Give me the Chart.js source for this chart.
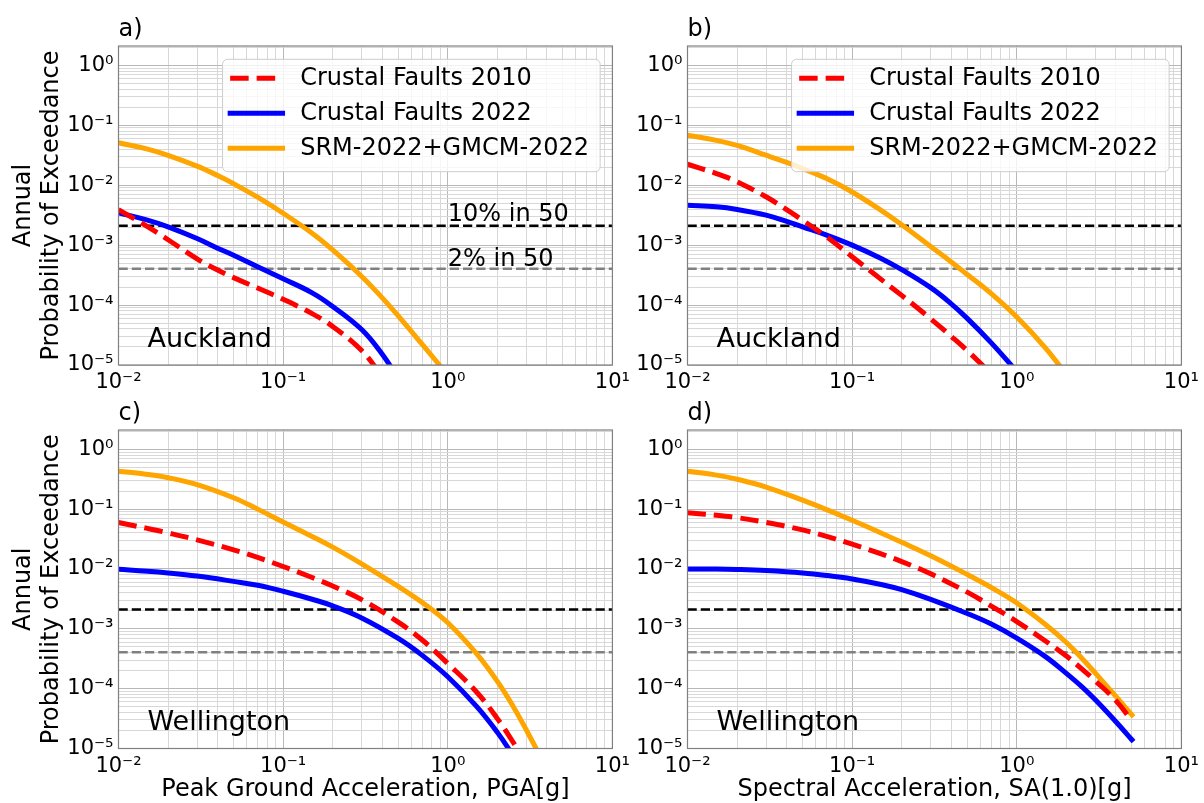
<!DOCTYPE html>
<html>
<head>
<meta charset="utf-8">
<script src="https://cdn.jsdelivr.net/npm/chart.js@4/dist/chart.umd.min.js"></script>
<style>
  body { margin: 0; background: #fff; }
  #page { position: relative; width: 1204px; height: 803px; overflow: hidden; }
  canvas { position: absolute; }
</style>
</head>
<body>
<div id="page">
  <canvas id="pa" width="635" height="400" style="left:0;top:0"></canvas>
  <canvas id="pb" width="635" height="400" style="left:569px;top:0"></canvas>
  <canvas id="pc" width="635" height="419" style="left:0;top:384px"></canvas>
  <canvas id="pd" width="635" height="419" style="left:569px;top:384px"></canvas>
</div>
<script>
// ---- data ----
const seriesLabels = ['Crustal Faults 2010', 'Crustal Faults 2022', 'SRM-2022+GMCM-2022']
const seriesColors = ['#ff0000', '#0000ff', '#ffa500']

const hazardLevels = [0.0021, 0.000404]
const hazardLabels = ['10% in 50', '2% in 50']
const hazardColors = ['#000000', '#808080']

const xMajorTicks = [0.01, 0.1, 1, 10]
const xTickLabels = ['10⁻²', '10⁻¹', '10⁰', '10¹']
const yMajorTicks = [1e-5, 1e-4, 1e-3, 1e-2, 1e-1, 1]
const yTickLabels = ['10⁻⁵', '10⁻⁴', '10⁻³', '10⁻²', '10⁻¹', '10⁰']

// Auckland, PGA / SA(1.0)
const xTop = [0.01, 0.015, 0.02, 0.03, 0.04, 0.05, 0.07, 0.1, 0.15, 0.2, 0.3, 0.4, 0.5, 0.7, 1, 1.5, 2]
const aklPga2010 = [3.9e-3, 2.03e-3, 1.23e-3, 5.9e-4, 3.84e-4, 2.87e-4, 1.92e-4, 1.25e-4, 7.2e-5, 4.4e-5, 1.74e-5, 6.4e-6, null, null, null, null, null]
const aklPga2022 = [3.46e-3, 2.61e-3, 2.02e-3, 1.29e-3, 8.9e-4, 6.8e-4, 4.37e-4, 2.75e-4, 1.6e-4, 9.5e-5, 3.9e-5, 1.51e-5, 6e-6, null, null, null, null]
const aklPgaSrm = [5.1e-2, 4.0e-2, 3.15e-2, 2.08e-2, 1.45e-2, 1.06e-2, 6.3e-3, 3.4e-3, 1.58e-3, 8.3e-4, 3.0e-4, 1.32e-4, 6.6e-5, 2.2e-5, 6.8e-6, null, null]
const aklSa2010 = [2.24e-2, 1.56e-2, 1.14e-2, 6.4e-3, 3.9e-3, 2.6e-3, 1.38e-3, 6.4e-4, 2.68e-4, 1.45e-4, 5.9e-5, 3.0e-5, 1.74e-5, 7.1e-6, null, null, null]
const aklSa2022 = [4.64e-3, 4.35e-3, 3.93e-3, 3.16e-3, 2.5e-3, 2.02e-3, 1.47e-3, 1.0e-3, 6.0e-4, 3.9e-4, 1.95e-4, 1.05e-4, 6.0e-5, 2.34e-5, 7.8e-6, null, null]
const aklSaSrm = [6.8e-2, 5.6e-2, 4.6e-2, 3.16e-2, 2.4e-2, 1.9e-2, 1.29e-2, 7.7e-3, 3.8e-3, 2.19e-3, 9.5e-4, 5.25e-4, 3.24e-4, 1.55e-4, 6.3e-5, 1.9e-5, 6.9e-6]

// Wellington, PGA / SA(1.0)
const xBottom = [0.01, 0.015, 0.02, 0.03, 0.05, 0.07, 0.1, 0.15, 0.2, 0.3, 0.5, 0.7, 1, 1.5, 2, 2.5, 3, 4, 5]
const wlgPga2010 = [5.96e-2, 4.76e-2, 4.01e-2, 3.07e-2, 2.09e-2, 1.56e-2, 1.1e-2, 7.2e-3, 5.2e-3, 3.07e-3, 1.29e-3, 6.5e-4, 2.63e-4, 8.7e-5, 3.16e-5, 1.26e-5, 5.5e-6, null, null]
const wlgPga2022 = [9.9e-3, 9.2e-3, 8.6e-3, 7.6e-3, 6.2e-3, 5.35e-3, 4.25e-3, 3.12e-3, 2.42e-3, 1.52e-3, 6.9e-4, 3.6e-4, 1.58e-4, 5.0e-5, 1.86e-5, 7.6e-6, null, null, null]
const wlgPgaSrm = [0.43, 0.38, 0.335, 0.257, 0.155, 0.1, 0.061, 0.035, 0.0232, 0.0122, 5.1e-3, 2.75e-3, 1.26e-3, 3.8e-4, 1.32e-4, 5.0e-5, 2.04e-5, 4.5e-6, null]
const wlgSa2010 = [8.7e-2, 7.9e-2, 7.2e-2, 6.0e-2, 4.5e-2, 3.5e-2, 2.6e-2, 1.78e-2, 1.33e-2, 8.3e-3, 4.1e-3, 2.4e-3, 1.32e-3, 6.2e-4, 3.5e-4, 2.1e-4, 1.35e-4, 6.3e-5, 2.9e-5]
const wlgSa2022 = [1.0e-2, 9.95e-3, 9.8e-3, 9.4e-3, 8.6e-3, 7.8e-3, 6.8e-3, 5.5e-3, 4.5e-3, 3.1e-3, 1.8e-3, 1.2e-3, 7.0e-4, 3.4e-4, 1.8e-4, 1.06e-4, 6.5e-5, 2.8e-5, 1.4e-5]
const wlgSaSrm = [0.43, 0.37, 0.316, 0.234, 0.141, 0.098, 0.065, 0.040, 0.0279, 0.0166, 8.1e-3, 4.9e-3, 2.7e-3, 1.17e-3, 5.9e-4, 3.16e-4, 1.82e-4, 7.4e-5, 3.63e-5]

const xMin = 0.01, xMax = 10, yMin = 1e-5, yMax = 2.1
const yTitle = ['Annual', 'Probability of Exceedance']

const panels = [
  { id: 'pa', tag: 'a)', city: 'Auckland', xs: xTop, series: [aklPga2010, aklPga2022, aklPgaSrm], legend: true, hazardText: true, yTitle: true, xTitle: null },
  { id: 'pb', tag: 'b)', city: 'Auckland', xs: xTop, series: [aklSa2010, aklSa2022, aklSaSrm], legend: true, hazardText: false, yTitle: false, xTitle: null },
  { id: 'pc', tag: 'c)', city: 'Wellington', xs: xBottom, series: [wlgPga2010, wlgPga2022, wlgPgaSrm], legend: false, hazardText: false, yTitle: true, xTitle: 'Peak Ground Acceleration, PGA[g]' },
  { id: 'pd', tag: 'd)', city: 'Wellington', xs: xBottom, series: [wlgSa2010, wlgSa2022, wlgSaSrm], legend: false, hazardText: false, yTitle: false, xTitle: 'Spectral Acceleration, SA(1.0)[g]' }
]

// ---- helpers ----
Chart.defaults.font.family = "'DejaVu Sans', sans-serif"
Chart.defaults.color = '#000'

function withMinors(majors, max) {
  const out = []
  majors.forEach(m => {
    for (let k = 1; k <= 9; k++) {
      const v = +(m * k).toPrecision(6)
      if (v <= max * 1.0001) out.push(v)
    }
  })
  return out
}
const xGrid = withMinors(xMajorTicks, xMax)
const yGrid = withMinors(yMajorTicks, yMax)

function majorIndex(v, majors) {
  return majors.findIndex(m => Math.abs(v / m - 1) < 1e-6)
}
function gridColor(majors) {
  return c => (c.tick && majorIndex(c.tick.value, majors) >= 0) ? '#b8b8b8' : '#d8d8d8'
}

function curve(i, xs, ys) {
  return {
    label: seriesLabels[i],
    data: xs.map((x, k) => ({ x: x, y: ys[k] })),
    borderColor: seriesColors[i],
    borderWidth: 5,
    borderDash: i === 0 ? [18.5, 8] : [],
    borderCapStyle: i === 0 ? 'butt' : 'square',
    borderJoinStyle: 'round',
    pointRadius: 0,
    tension: 0.4,
    fill: false,
    clip: 0,
    order: i
  }
}
function hazard(j) {
  return {
    label: hazardLabels[j],
    data: [{ x: xMin, y: hazardLevels[j] }, { x: xMax, y: hazardLevels[j] }],
    borderColor: hazardColors[j],
    borderWidth: 2.5,
    borderDash: [9.25, 4],
    pointRadius: 0,
    fill: false,
    clip: 0,
    order: 5 + j,
    hazard: true
  }
}

// frame, texts and legend drawn on top of the lines
const panelDecor = {
  id: 'panelDecor',
  afterDatasetsDraw(chart, args, opts) {
    const { ctx, chartArea: ca } = chart
    const x = chart.scales.x, y = chart.scales.y
    ctx.save()
    ctx.strokeStyle = '#808080'
    ctx.lineWidth = 1.2
    ctx.strokeRect(ca.left, ca.top, ca.right - ca.left, ca.bottom - ca.top)

    ctx.fillStyle = '#000'
    ctx.textAlign = 'left'
    ctx.textBaseline = 'alphabetic'
    ctx.font = "27px 'DejaVu Sans'"
    ctx.fillText(opts.city, x.getPixelForValue(0.015), y.getPixelForValue(2e-5))

    if (opts.hazardText) {
      ctx.font = "24px 'DejaVu Sans'"
      ctx.fillText(hazardLabels[0], x.getPixelForValue(1), y.getPixelForValue(0.0025))
      ctx.fillText(hazardLabels[1], x.getPixelForValue(1), y.getPixelForValue(0.00045))
    }

    if (opts.legend) {
      ctx.font = "24px 'DejaVu Sans'"
      const items = chart.data.datasets.filter(d => !d.hazard)
      const textW = Math.max(...items.map(d => ctx.measureText(d.label).width))
      const w = 77.6 + textW + 11
      const h = 112.4
      const left = ca.right - 12.3 - w
      const top = ca.top + 13.3
      ctx.beginPath()
      ctx.roundRect(left, top, w, h, 5)
      ctx.fillStyle = 'rgba(255,255,255,0.8)'
      ctx.fill()
      ctx.strokeStyle = '#cccccc'
      ctx.lineWidth = 1
      ctx.stroke()
      items.forEach((d, i) => {
        const cy = top + 19 + 35 * i
        ctx.beginPath()
        ctx.strokeStyle = d.borderColor
        ctx.lineWidth = d.borderWidth
        ctx.lineCap = d.borderCapStyle
        ctx.setLineDash(d.borderDash)
        ctx.moveTo(left + 7.6, cy)
        ctx.lineTo(left + 60, cy)
        ctx.stroke()
        ctx.setLineDash([])
        ctx.fillStyle = '#000'
        ctx.textBaseline = 'middle'
        ctx.fillText(d.label, left + 77.6, cy)
      })
    }
    ctx.restore()
  }
}

panels.forEach(p => {
  const datasets = p.series.map((ys, i) => curve(i, p.xs, ys))
  datasets.push(hazard(0), hazard(1))
  new Chart(document.getElementById(p.id), {
    type: 'line',
    data: { datasets: datasets },
    options: {
      responsive: false,
      animation: false,
      devicePixelRatio: 1,
      layout: { padding: { left: 0, right: 22, top: 0, bottom: 0 } },
      plugins: {
        legend: { display: false },
        tooltip: { enabled: false },
        title: {
          display: true, text: p.tag, align: 'start', fullSize: false, color: '#000',
          font: { size: 24, weight: 'normal', lineHeight: 1.2 },
          padding: { top: 15, bottom: 2.2 }
        },
        panelDecor: { city: p.city, legend: p.legend, hazardText: p.hazardText }
      },
      scales: {
        x: {
          type: 'logarithmic', min: xMin, max: xMax,
          afterBuildTicks: s => { s.ticks = xGrid.map(v => ({ value: v })) },
          afterFit: s => { s.height = p.xTitle ? 54.5 : 35 },
          ticks: {
            autoSkip: false, maxRotation: 0, minRotation: 0, padding: 5,
            font: { size: 21 },
            callback: v => { const i = majorIndex(v, xMajorTicks); return i >= 0 ? xTickLabels[i] : '' }
          },
          grid: { color: gridColor(xMajorTicks), lineWidth: 1, drawTicks: false },
          border: { display: false },
          title: { display: !!p.xTitle, text: p.xTitle || '', font: { size: 24, lineHeight: 1.1 }, padding: 0 }
        },
        y: {
          type: 'logarithmic', min: yMin, max: yMax,
          afterBuildTicks: s => { s.ticks = yGrid.map(v => ({ value: v })) },
          afterFit: s => { s.width = 118.5 },
          ticks: {
            autoSkip: false, padding: 5,
            font: { size: 21 },
            callback: v => { const i = majorIndex(v, yMajorTicks); return i >= 0 ? yTickLabels[i] : '' }
          },
          grid: { color: gridColor(yMajorTicks), lineWidth: 1, drawTicks: false },
          border: { display: false },
          title: { display: p.yTitle, text: yTitle, font: { size: 24, lineHeight: 1.15 }, padding: { top: 10, bottom: 0 } }
        }
      }
    },
    plugins: [panelDecor]
  })
})
</script>
</body>
</html>
